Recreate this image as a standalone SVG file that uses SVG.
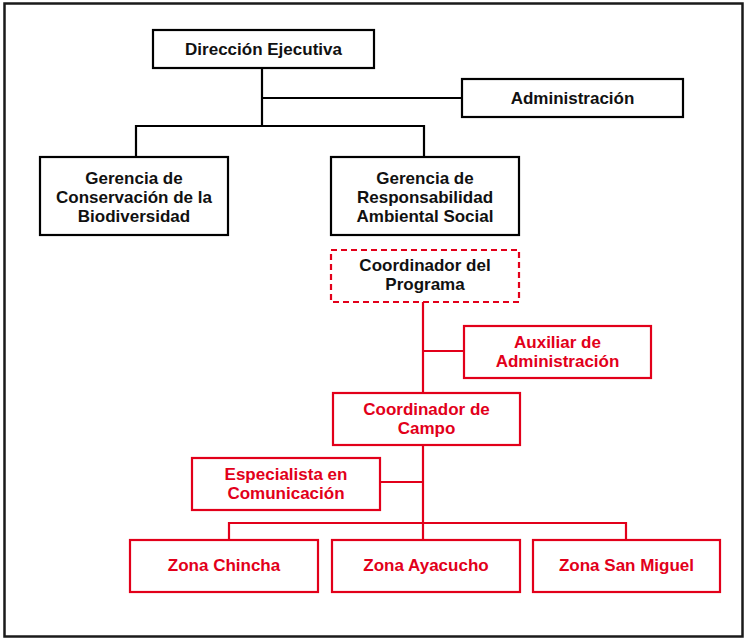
<svg xmlns="http://www.w3.org/2000/svg" width="744" height="640" viewBox="0 0 744 640">
<style>
.frame{fill:#fff;stroke:#1a1a1a;stroke-width:2.5}
.bk{fill:#fff;stroke:#000;stroke-width:2.2}
.rd{fill:#fff;stroke:#e2001a;stroke-width:2.2}
.rdd{fill:#fff;stroke:#e2001a;stroke-width:2.2;stroke-dasharray:6 4}
.lb{stroke:#000;stroke-width:2.2;fill:none}
.lr{stroke:#e2001a;stroke-width:2.2;fill:none}
text{font-family:"Liberation Sans",Arial,sans-serif;font-weight:bold;font-size:17px;text-anchor:middle}
.tb{fill:#111}
.tr{fill:#e2001a}
</style>
<rect class="frame" x="4.5" y="3.5" width="738" height="633"/>
<g id="connectors">
<path class="lb" d="M262 68V126M262 98H462M136 157V126H424V157"/>
<path class="lr" d="M423 302V393M423 351H464M423 445V540M423 482H380M229 540V523H626V540"/>
</g>
<g id="direccion"><rect class="bk" x="153" y="30" width="221" height="38"/><text class="tb" x="263.5" y="55">Dirección Ejecutiva</text></g>
<g id="administracion"><rect class="bk" x="462" y="79" width="221" height="38"/><text class="tb" x="572.5" y="104">Administración</text></g>
<g id="gerencia-conservacion"><rect class="bk" x="40" y="157" width="188" height="78"/><text class="tb" x="134" y="184">Gerencia de</text><text class="tb" x="134" y="203">Conservación de la</text><text class="tb" x="134" y="222">Biodiversidad</text></g>
<g id="gerencia-responsabilidad"><rect class="bk" x="331" y="157" width="188" height="78"/><text class="tb" x="425" y="184">Gerencia de</text><text class="tb" x="425" y="203">Responsabilidad</text><text class="tb" x="425" y="222">Ambiental Social</text></g>
<g id="coordinador-programa"><rect class="rdd" x="331" y="250" width="188" height="52"/><text class="tb" x="425" y="271">Coordinador del</text><text class="tb" x="425" y="290">Programa</text></g>
<g id="auxiliar"><rect class="rd" x="464" y="326" width="187" height="52"/><text class="tr" x="557.5" y="348">Auxiliar de</text><text class="tr" x="557.5" y="367">Administración</text></g>
<g id="coordinador-campo"><rect class="rd" x="333" y="393" width="187" height="52"/><text class="tr" x="426.5" y="415">Coordinador de</text><text class="tr" x="426.5" y="434">Campo</text></g>
<g id="especialista"><rect class="rd" x="192" y="458" width="188" height="52"/><text class="tr" x="286" y="480">Especialista en</text><text class="tr" x="286" y="499">Comunicación</text></g>
<g id="zona-chincha"><rect class="rd" x="130" y="540" width="188" height="52"/><text class="tr" x="224" y="571">Zona Chincha</text></g>
<g id="zona-ayacucho"><rect class="rd" x="332" y="540" width="188" height="52"/><text class="tr" x="426" y="571">Zona Ayacucho</text></g>
<g id="zona-san-miguel"><rect class="rd" x="533" y="540" width="187" height="52"/><text class="tr" x="626.5" y="571">Zona San Miguel</text></g>
</svg>
